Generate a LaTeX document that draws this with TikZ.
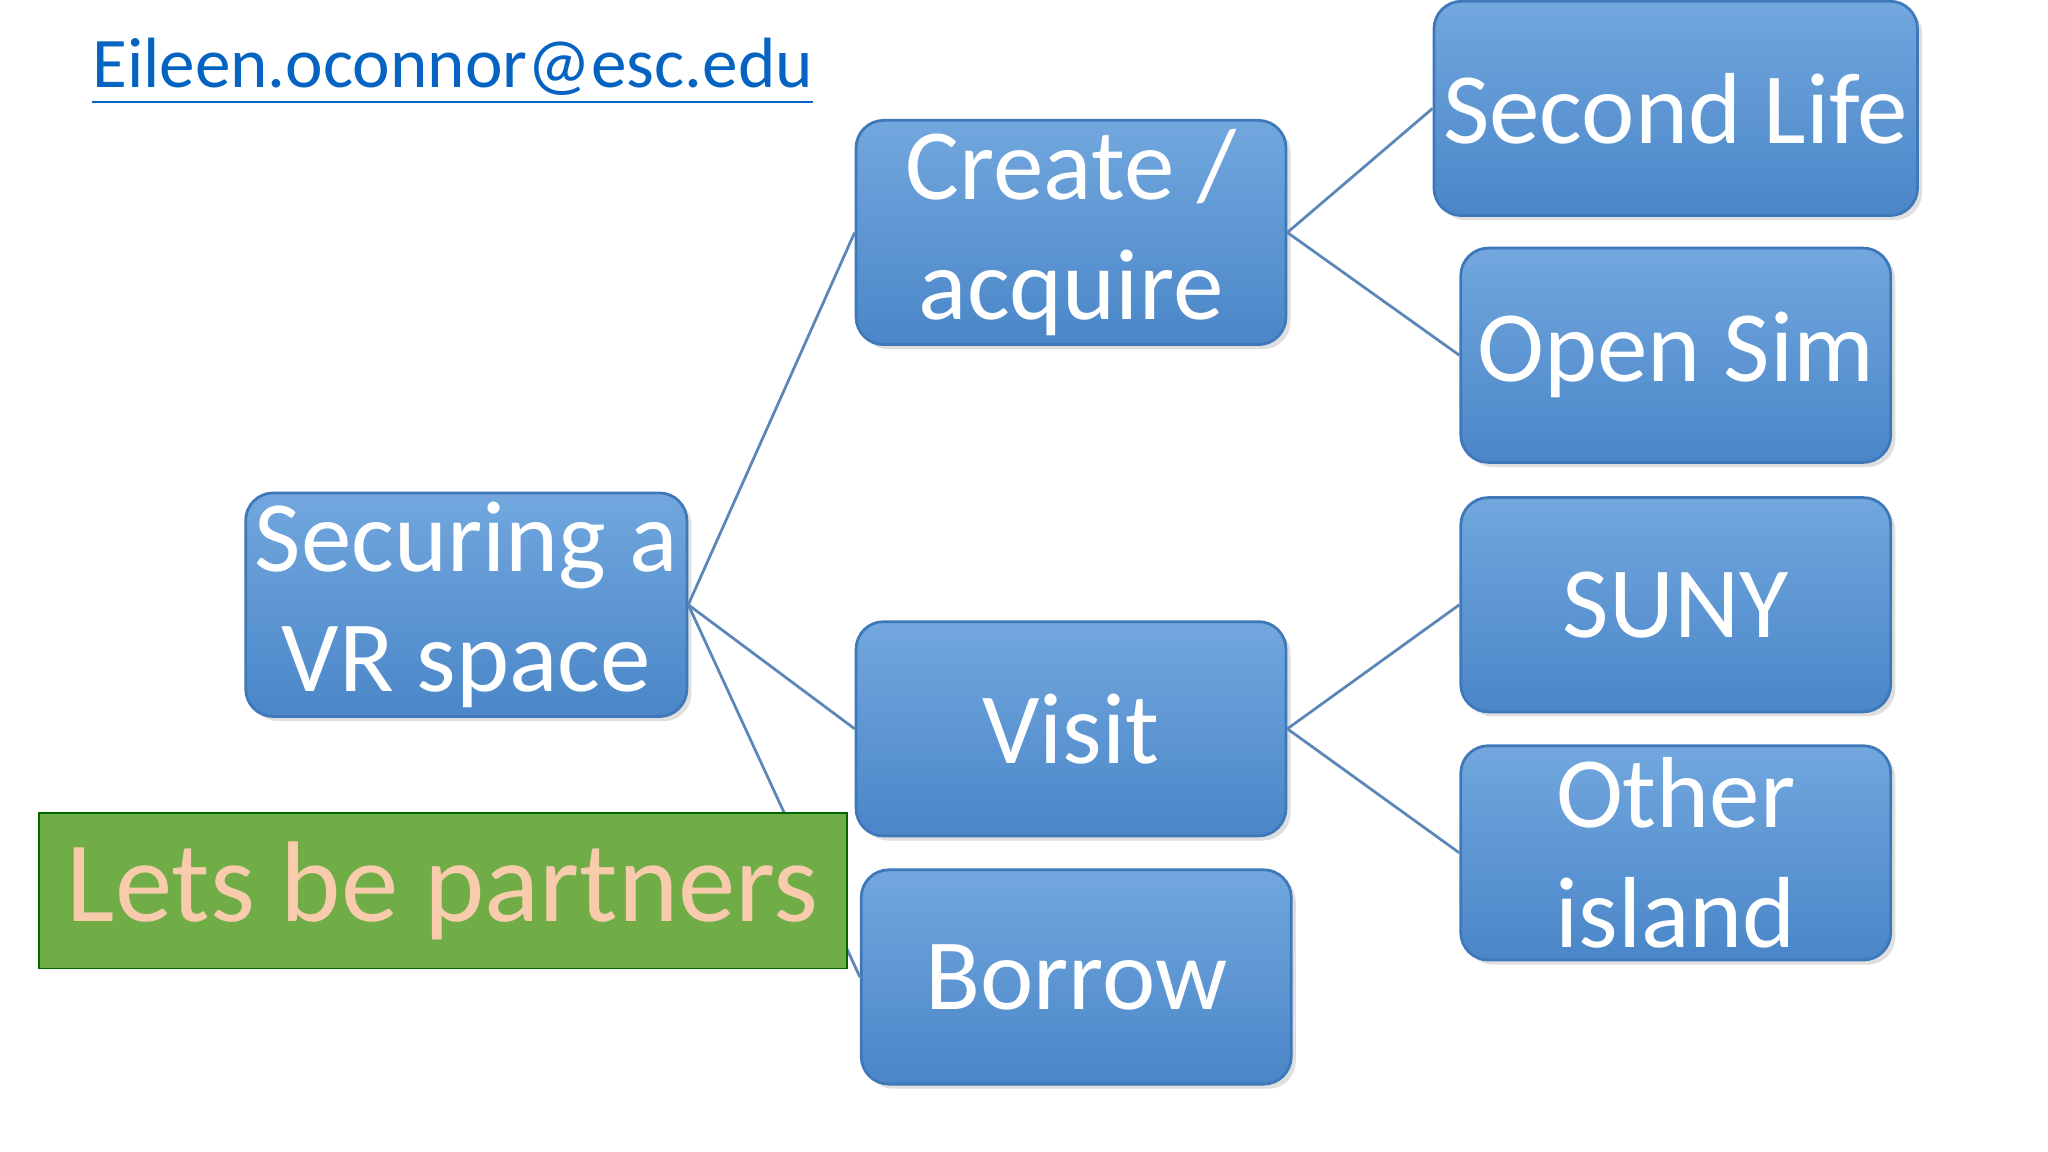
\documentclass[tikz,border=0pt]{standalone}
\usepackage{fontspec}
\setmainfont{Carlito}
\usetikzlibrary{shadows}
\definecolor{boxtop}{HTML}{72A7DE}
\definecolor{boxbot}{HTML}{4A86C8}
\definecolor{boxline}{HTML}{3F78B8}
\definecolor{conn}{HTML}{5A86B8}
\definecolor{linkblue}{HTML}{0563C1}
\definecolor{greenbox}{HTML}{70AD47}
\definecolor{orangetxt}{HTML}{F8CBAD}
\begin{document}
\begin{tikzpicture}[x=0.01cm,y=-0.01cm,
  vbox/.style={draw=boxline,line width=0.6pt,rounded corners=6pt,top color=boxtop,bottom color=boxbot,
    minimum width=3.29cm,minimum height=1.64cm,text=white,font=\fontsize{22}{26}\selectfont,
    align=center,inner sep=2pt,drop shadow={opacity=0.25,shadow xshift=1pt,shadow yshift=-1pt}},
  conline/.style={draw=conn,line width=0.6pt}]
\useasboundingbox (0,0) rectangle (1568,882);
\node[vbox] (sec) at (357,463) {Securing a\\VR space};
\node[vbox] (cre) at (820,178) {Create /\\acquire};
\node[vbox] (vis) at (820,558) {Visit};
\node[vbox] (bor) at (824,748) {Borrow};
\node[vbox] (sl) at (1283,83) {Second Life};
\node[vbox] (os) at (1283,272) {Open Sim};
\node[vbox] (suny) at (1283,463) {SUNY};
\node[vbox] (oi) at (1283,653) {Other\\island};
\draw[conline] (sec.east) -- (cre.west);
\draw[conline] (sec.east) -- (vis.west);
\draw[conline] (sec.east) -- (bor.west);
\draw[conline] (cre.east) -- (sl.west);
\draw[conline] (cre.east) -- (os.west);
\draw[conline] (vis.east) -- (suny.west);
\draw[conline] (vis.east) -- (oi.west);
\node[draw=green!40!black,fill=greenbox,minimum width=6.18cm,minimum height=1.19cm,inner sep=0pt,
  text=orangetxt,font=\fontsize{25}{30}\selectfont] (lets) at (339,682) {Lets be partners};
\node[anchor=west,text=linkblue,font=\fontsize{15.5}{18}\selectfont,inner sep=0pt] (mail) at (70,55)
  {\underline{Eileen.oconnor@esc.edu}};
\end{tikzpicture}
\end{document}
